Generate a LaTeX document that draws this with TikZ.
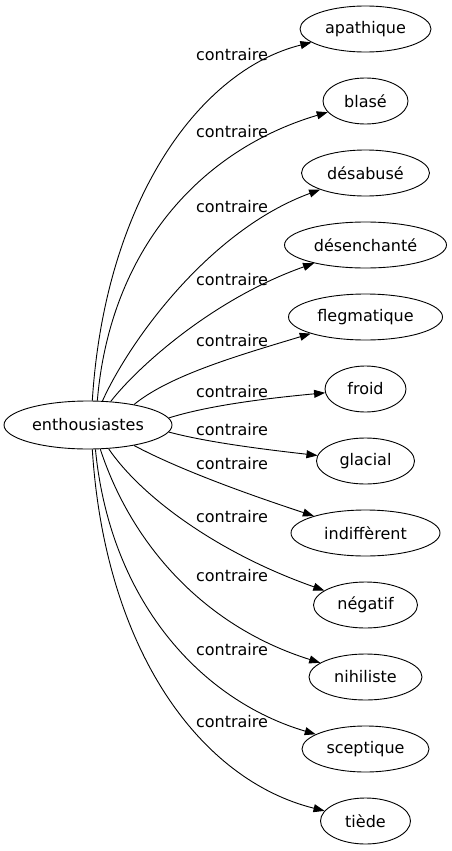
\documentclass[tikz,border=0pt]{standalone}
\usepackage{fontspec}
\setmainfont{DejaVu Sans}
\usetikzlibrary{arrows.meta,shapes.geometric}
\begin{document}
\begin{tikzpicture}[x=1pt,y=-1pt,
  word/.style={draw, ellipse, line width=0.9pt, inner sep=0pt, minimum height=46pt, font=\fontsize{16pt}{19pt}\selectfont},
  lab/.style={inner sep=0pt, font=\fontsize{16pt}{19pt}\selectfont},
  rel/.style={line width=0.9pt, -{Triangle[length=11pt,width=8pt]}}]
\useasboundingbox (0,0) rectangle (451,851);

\node[word, minimum width=168pt, minimum height=48pt] (src) at (88,425) {enthousiastes};

\node[word, minimum width=131pt] (t1) at (365.5,29) {apathique};
\node[word, minimum width=85pt] (t2) at (365.5,101) {blasé};
\node[word, minimum width=128pt] (t3) at (365.5,173) {désabusé};
\node[word, minimum width=162pt] (t4) at (365.5,245) {désenchanté};
\node[word, minimum width=154pt] (t5) at (365.5,317) {flegmatique};
\node[word, minimum width=81pt] (t6) at (365.5,389) {froid};
\node[word, minimum width=98pt] (t7) at (365.5,461) {glacial};
\node[word, minimum width=149pt] (t8) at (365.5,533) {indiffèrent};
\node[word, minimum width=104pt] (t9) at (365.5,605) {négatif};
\node[word, minimum width=113pt] (t10) at (365.5,677) {nihiliste};
\node[word, minimum width=127pt] (t11) at (365.5,749) {sceptique};
\node[word, minimum width=90pt] (t12) at (365.5,821) {tiède};

\node[lab] (l1) at (232,55) {contraire};
\node[lab] (l2) at (232,132) {contraire};
\node[lab] (l3) at (232,207) {contraire};
\node[lab] (l4) at (232,280) {contraire};
\node[lab] (l5) at (232,341) {contraire};
\node[lab] (l6) at (232,392) {contraire};
\node[lab] (l7) at (232,430) {contraire};
\node[lab] (l8) at (232,464) {contraire};
\node[lab] (l9) at (232,517) {contraire};
\node[lab] (l10) at (232,576) {contraire};
\node[lab] (l11) at (232,650) {contraire};
\node[lab] (l12) at (232,722) {contraire};

\draw[rel] (src.80.5) .. controls (105,200) and (200,70) .. (t1);
\draw[rel] (src.69.4) .. controls (110,250) and (200,150) .. (t2);
\draw[rel] (src.59.4) .. controls (130,340) and (210,230) .. (t3);
\draw[rel] (src.46.5) .. controls (135,370) and (210,300) .. (t4);
\draw[rel] (src.24.9) .. controls (170,375) and (240,355) .. (t5);
\draw[rel] (src.5.9) .. controls (210,405) and (270,398) .. (t6);
\draw[rel] (src.-5.9) .. controls (210,443) and (270,450) .. (t7);
\draw[rel] (src.-24.9) .. controls (180,470) and (250,495) .. (t8);
\draw[rel] (src.-49.4) .. controls (140,495) and (215,552) .. (t9);
\draw[rel] (src.-63.2) .. controls (130,540) and (200,625) .. (t10);
\draw[rel] (src.-73.6) .. controls (110,600) and (200,700) .. (t11);
\draw[rel] (src.-80.5) .. controls (105,650) and (200,780) .. (t12);
\end{tikzpicture}
\end{document}
